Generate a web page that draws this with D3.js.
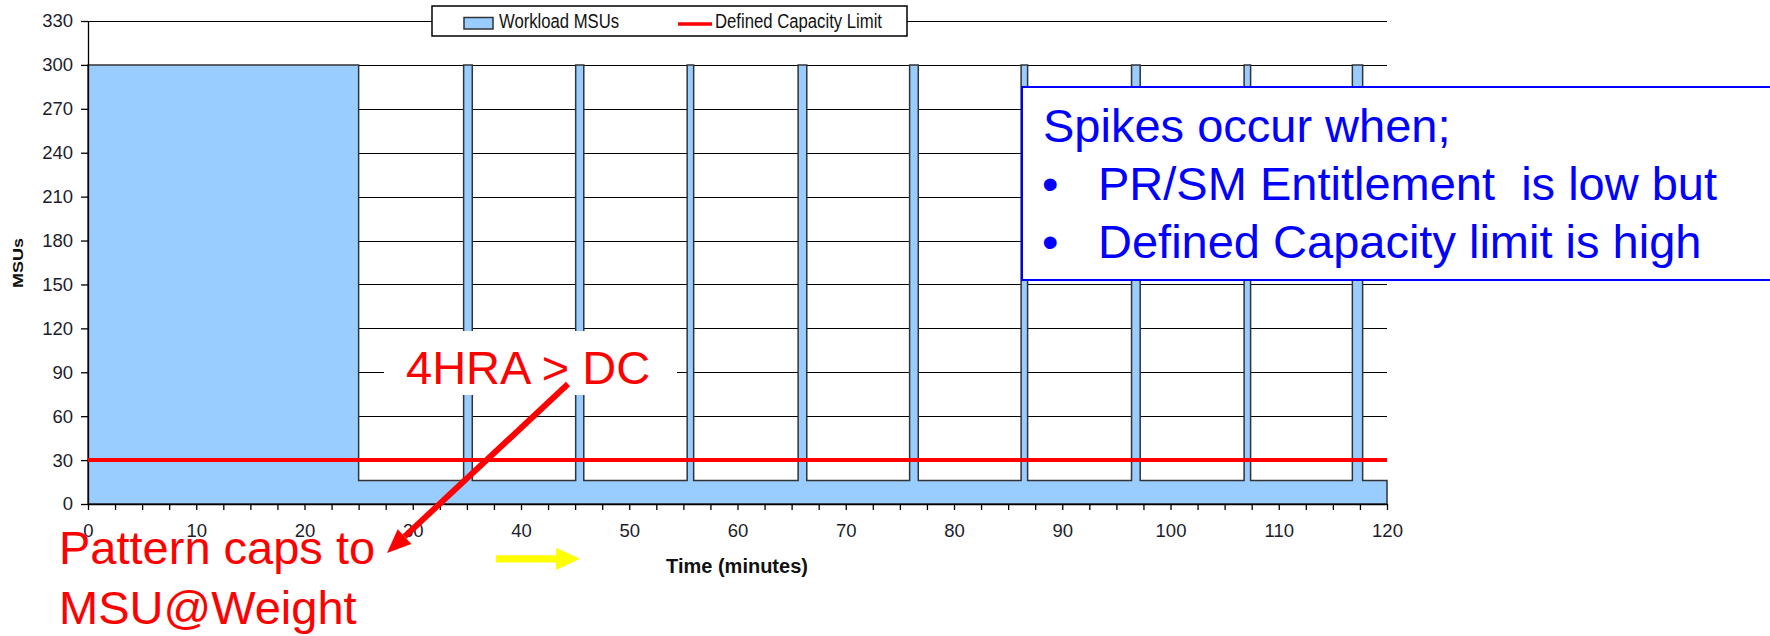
<!DOCTYPE html>
<html>
<head>
<meta charset="utf-8">
<script src="https://cdn.jsdelivr.net/npm/d3@7/dist/d3.min.js"></script>
<style>
  html, body { margin: 0; padding: 0; background: #fff; }
  svg { display: block; font-family: "Liberation Sans", Arial, sans-serif; }
</style>
</head>
<body>
<script>
// time in minutes / workload MSUs (step shape: 300 MSU until capping, then 16 MSU with spikes)
var timeMin = [0, 25, 25,
  34.7, 34.7, 35.5, 35.5,
  45.05, 45.05, 45.8, 45.8,
  55.35, 55.35, 55.95, 55.95,
  65.6, 65.6, 66.4, 66.4,
  75.9, 75.9, 76.7, 76.7,
  86.2, 86.2, 86.8, 86.8,
  96.4, 96.4, 97.2, 97.2,
  106.8, 106.8, 107.4, 107.4,
  116.8, 116.8, 117.75, 117.75,
  120];
var workloadMSU = [300, 300, 16,
  16, 300, 300, 16,
  16, 300, 300, 16,
  16, 300, 300, 16,
  16, 300, 300, 16,
  16, 300, 300, 16,
  16, 300, 300, 16,
  16, 300, 300, 16,
  16, 300, 300, 16,
  16, 300, 300, 16,
  16];

var limitTime = [0, 120];
var limitMSU = [30, 30];

var yTicks = [0, 30, 60, 90, 120, 150, 180, 210, 240, 270, 300, 330];
var xTicks = [0, 10, 20, 30, 40, 50, 60, 70, 80, 90, 100, 110, 120];
var xMinorTicks = [0, 2.5, 5, 7.5, 10, 12.5, 15, 17.5, 20, 22.5, 25, 27.5, 30, 32.5, 35, 37.5,
  40, 42.5, 45, 47.5, 50, 52.5, 55, 57.5, 60, 62.5, 65, 67.5, 70, 72.5, 75, 77.5,
  80, 82.5, 85, 87.5, 90, 92.5, 95, 97.5, 100, 102.5, 105, 107.5, 110, 112.5, 115, 117.5, 120];

var legendNames = ["Workload MSUs", "Defined Capacity Limit"];

var svg = d3.select("body").append("svg")
  .attr("width", 1770)
  .attr("height", 636);

var x = d3.scaleLinear().domain([0, 120]).range([88, 1387]);
var y = d3.scaleLinear().domain([0, 330]).range([504, 21]);

// grid lines
svg.append("g").selectAll("line")
  .data(yTicks.filter(function(d) { return d > 0; }))
  .enter().append("line")
  .attr("x1", x(0)).attr("x2", x(120))
  .attr("y1", function(d) { return Math.round(y(d)) + 0.5; })
  .attr("y2", function(d) { return Math.round(y(d)) + 0.5; })
  .attr("stroke", "#000")
  .attr("stroke-width", 1);

// workload area
var series = timeMin.map(function(t, i) { return {t: t, v: workloadMSU[i]}; });
var area = d3.area()
  .x(function(d) { return x(d.t); })
  .y0(y(0))
  .y1(function(d) { return y(d.v); });

svg.append("path")
  .datum(series)
  .attr("d", area)
  .attr("fill", "#99ccff")
  .attr("stroke", "#333")
  .attr("stroke-width", 1.5);

// axes
var xAxis = d3.axisBottom(x)
  .tickValues(xMinorTicks)
  .tickSize(6)
  .tickSizeOuter(0)
  .tickPadding(14)
  .tickFormat(function(d) { return xTicks.indexOf(d) >= 0 ? d : ""; });

var gx = svg.append("g")
  .attr("transform", "translate(0," + y(0) + ")")
  .call(xAxis);

var yAxis = d3.axisLeft(y)
  .tickValues(yTicks)
  .tickSize(7)
  .tickSizeOuter(0)
  .tickPadding(8);

var gy = svg.append("g")
  .attr("transform", "translate(" + x(0) + ",0)")
  .call(yAxis);

[gx, gy].forEach(function(g) {
  g.selectAll("path, line").attr("stroke", "#000").attr("stroke-width", 1.3);
  g.selectAll("text")
    .attr("fill", "#1c1c2c")
    .style("font-size", "18.5px")
    .style("font-family", "'Liberation Sans', Arial, sans-serif");
});

// defined capacity limit
var limitLine = d3.line()
  .x(function(d, i) { return x(limitTime[i]); })
  .y(function(d) { return y(d); });

svg.append("path")
  .attr("d", limitLine(limitMSU))
  .attr("fill", "none")
  .attr("stroke", "#ff0000")
  .attr("stroke-width", 4);

// axis titles
svg.append("text")
  .attr("x", 737).attr("y", 573)
  .attr("text-anchor", "middle")
  .style("font-size", "20px")
  .style("font-weight", "bold")
  .attr("fill", "#111")
  .text("Time (minutes)");

svg.append("text")
  .attr("transform", "translate(23,263) rotate(-90)")
  .attr("text-anchor", "middle")
  .attr("textLength", 50)
  .attr("lengthAdjust", "spacingAndGlyphs")
  .style("font-size", "15px")
  .style("font-weight", "bold")
  .attr("fill", "#111")
  .text("MSUs");

// legend
var legend = svg.append("g");
legend.append("rect")
  .attr("x", 432).attr("y", 6)
  .attr("width", 475).attr("height", 30)
  .attr("fill", "#fff")
  .attr("stroke", "#000")
  .attr("stroke-width", 1.5);
legend.append("rect")
  .attr("x", 464).attr("y", 17.5)
  .attr("width", 29).attr("height", 11.5)
  .attr("fill", "#99ccff")
  .attr("stroke", "#333")
  .attr("stroke-width", 1.5);
legend.append("text")
  .attr("x", 499).attr("y", 28)
  .attr("textLength", 120)
  .attr("lengthAdjust", "spacingAndGlyphs")
  .style("font-size", "20px")
  .attr("fill", "#111")
  .text(legendNames[0]);
legend.append("line")
  .attr("x1", 678).attr("x2", 712)
  .attr("y1", 24).attr("y2", 24)
  .attr("stroke", "#ff0000")
  .attr("stroke-width", 3.5);
legend.append("text")
  .attr("x", 715).attr("y", 28)
  .attr("textLength", 167)
  .attr("lengthAdjust", "spacingAndGlyphs")
  .style("font-size", "20px")
  .attr("fill", "#111")
  .text(legendNames[1]);

// "4HRA > DC" callout
svg.append("rect")
  .attr("x", 384).attr("y", 331)
  .attr("width", 293).attr("height", 64)
  .attr("fill", "#fff");
svg.append("text")
  .attr("x", 406).attr("y", 384)
  .style("font-size", "47px")
  .attr("fill", "#ff0000")
  .text("4HRA > DC");

// red arrow
var ax1 = 568, ay1 = 384, ax2 = 387, ay2 = 553;
var ang = Math.atan2(ay2 - ay1, ax2 - ax1);
var headLen = 24, headHalf = 10;
var bx = ax2 - headLen * Math.cos(ang), by = ay2 - headLen * Math.sin(ang);
svg.append("line")
  .attr("x1", ax1).attr("y1", ay1)
  .attr("x2", bx).attr("y2", by)
  .attr("stroke", "#ff0000")
  .attr("stroke-width", 6);
svg.append("path")
  .attr("d", "M" + ax2 + "," + ay2 +
    "L" + (bx + headHalf * Math.sin(ang)) + "," + (by - headHalf * Math.cos(ang)) +
    "L" + (bx - headHalf * Math.sin(ang)) + "," + (by + headHalf * Math.cos(ang)) + "Z")
  .attr("fill", "#ff0000");

// "Pattern caps to MSU@Weight"
var note = svg.append("text")
  .style("font-size", "47px")
  .attr("fill", "#ff0000");
note.append("tspan").attr("x", 59).attr("y", 564).text("Pattern caps to");
note.append("tspan").attr("x", 59).attr("y", 624).text("MSU@Weight");

// yellow arrow
svg.append("path")
  .attr("d", "M496,555.2L556,555.2L556,547.7L580,558.8L556,570L556,562.4L496,562.4Z")
  .attr("fill", "#ffff00");

// spikes explanation box
svg.append("rect")
  .attr("x", 1022).attr("y", 87)
  .attr("width", 760).attr("height", 193)
  .attr("fill", "#fff")
  .attr("stroke", "#0000ff")
  .attr("stroke-width", 2);

var box = svg.append("g")
  .style("font-size", "47px")
  .attr("fill", "#0000ff");
box.append("text").attr("x", 1043).attr("y", 142).text("Spikes occur when;");
box.append("text").attr("x", 1042).attr("y", 200).text("\u2022");
box.append("text").attr("x", 1098).attr("y", 200).attr("xml:space", "preserve").text("PR/SM Entitlement  is low but");
box.append("text").attr("x", 1042).attr("y", 258).text("\u2022");
box.append("text").attr("x", 1098).attr("y", 258).text("Defined Capacity limit is high");
</script>
</body>
</html>
